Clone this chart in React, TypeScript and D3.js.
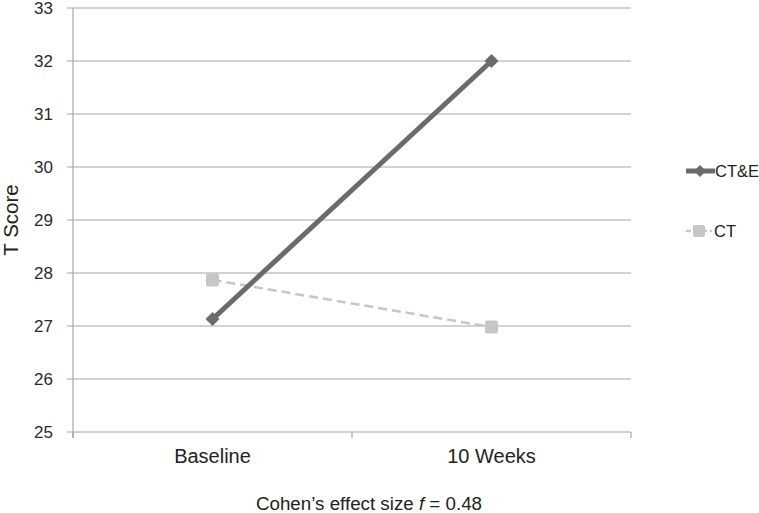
import React from "react";
import * as d3 from "d3";

const categories = ["Baseline", "10 Weeks"];
const seriesNames = ["CT&E", "CT"];
const cteValues = [27.13, 32.0];
const ctValues = [27.87, 26.98];
const yTicks = [25, 26, 27, 28, 29, 30, 31, 32, 33];

const W = 759, H = 513;
const left = 73, right = 631, top = 8, bottom = 432;

export default function App() {
  const x = d3.scaleBand<string>().domain(categories).range([left, right]);
  const y = d3.scaleLinear().domain([25, 33]).range([bottom, top]);
  const cx = (c: string) => (x(c) as number) + x.bandwidth() / 2;
  const line = d3.line<[string, number]>().x(d => cx(d[0])).y(d => y(d[1]));
  const cteData = categories.map((c, i) => [c, cteValues[i]] as [string, number]);
  const ctData = categories.map((c, i) => [c, ctValues[i]] as [string, number]);
  const font = "'Liberation Sans', Arial, sans-serif";
  const dark = "#6b6b6b";
  const light = "#c6c6c6";
  const boundaries = [left, ...categories.map(c => (x(c) as number) + x.bandwidth())];
  const diamond = (px: number, py: number, r: number) =>
    `M${px},${py - r}L${px + r},${py}L${px},${py + r}L${px - r},${py}Z`;
  return (
    <svg width={W} height={H} style={{ position: "absolute", left: 0, top: 0, background: "#fff" }} fontFamily={font}>
      {yTicks.map(t => (
        <g key={t}>
          <line x1={left - 6} x2={right} y1={y(t)} y2={y(t)} stroke="#a6a6a6" strokeWidth={1.2} />
          <text x={53} y={y(t)} dy="0.35em" textAnchor="end" fontSize={17} fill="#2a2a2a">{t}</text>
        </g>
      ))}
      <line x1={left} x2={left} y1={top} y2={bottom + 6} stroke="#a6a6a6" strokeWidth={1.2} />
      {boundaries.map((b, i) => (
        <line key={i} x1={b} x2={b} y1={bottom} y2={bottom + 6} stroke="#a6a6a6" strokeWidth={1.2} />
      ))}
      {categories.map(c => (
        <text key={c} x={cx(c)} y={463} textAnchor="middle" fontSize={20} fill="#222">{c}</text>
      ))}
      <text transform={`translate(18,${(top + bottom) / 2}) rotate(-90)`} textAnchor="middle" fontSize={20.5} fill="#222">T Score</text>
      <path d={line(ctData) || ""} fill="none" stroke={light} strokeWidth={2.5} strokeDasharray="9,5" />
      {ctData.map((d, i) => (
        <rect key={i} x={cx(d[0]) - 6.5} y={y(d[1]) - 6.5} width={13} height={13} rx={2} fill={light} />
      ))}
      <path d={line(cteData) || ""} fill="none" stroke={dark} strokeWidth={5} />
      {cteData.map((d, i) => (
        <path key={i} d={diamond(cx(d[0]), y(d[1]), 7)} fill={dark} />
      ))}
      <g>
        <line x1={686} x2={715} y1={171} y2={171} stroke={dark} strokeWidth={5} />
        <path d={diamond(700, 171, 6)} fill={dark} />
        <text x={715} y={171} dy="0.35em" fontSize={16.5} fill="#222">{seriesNames[0]}</text>
        <line x1={686} x2={712} y1={231} y2={231} stroke={light} strokeWidth={2.5} strokeDasharray="5,3" />
        <rect x={693} y={225} width={12} height={12} rx={2} fill={light} />
        <text x={714} y={231} dy="0.35em" fontSize={16.5} fill="#222">{seriesNames[1]}</text>
      </g>
      <text x={369} y={510} textAnchor="middle" fontSize={18.75} fill="#222">
        Cohen’s effect size <tspan fontStyle="italic">f</tspan> = 0.48
      </text>
    </svg>
  );
}
